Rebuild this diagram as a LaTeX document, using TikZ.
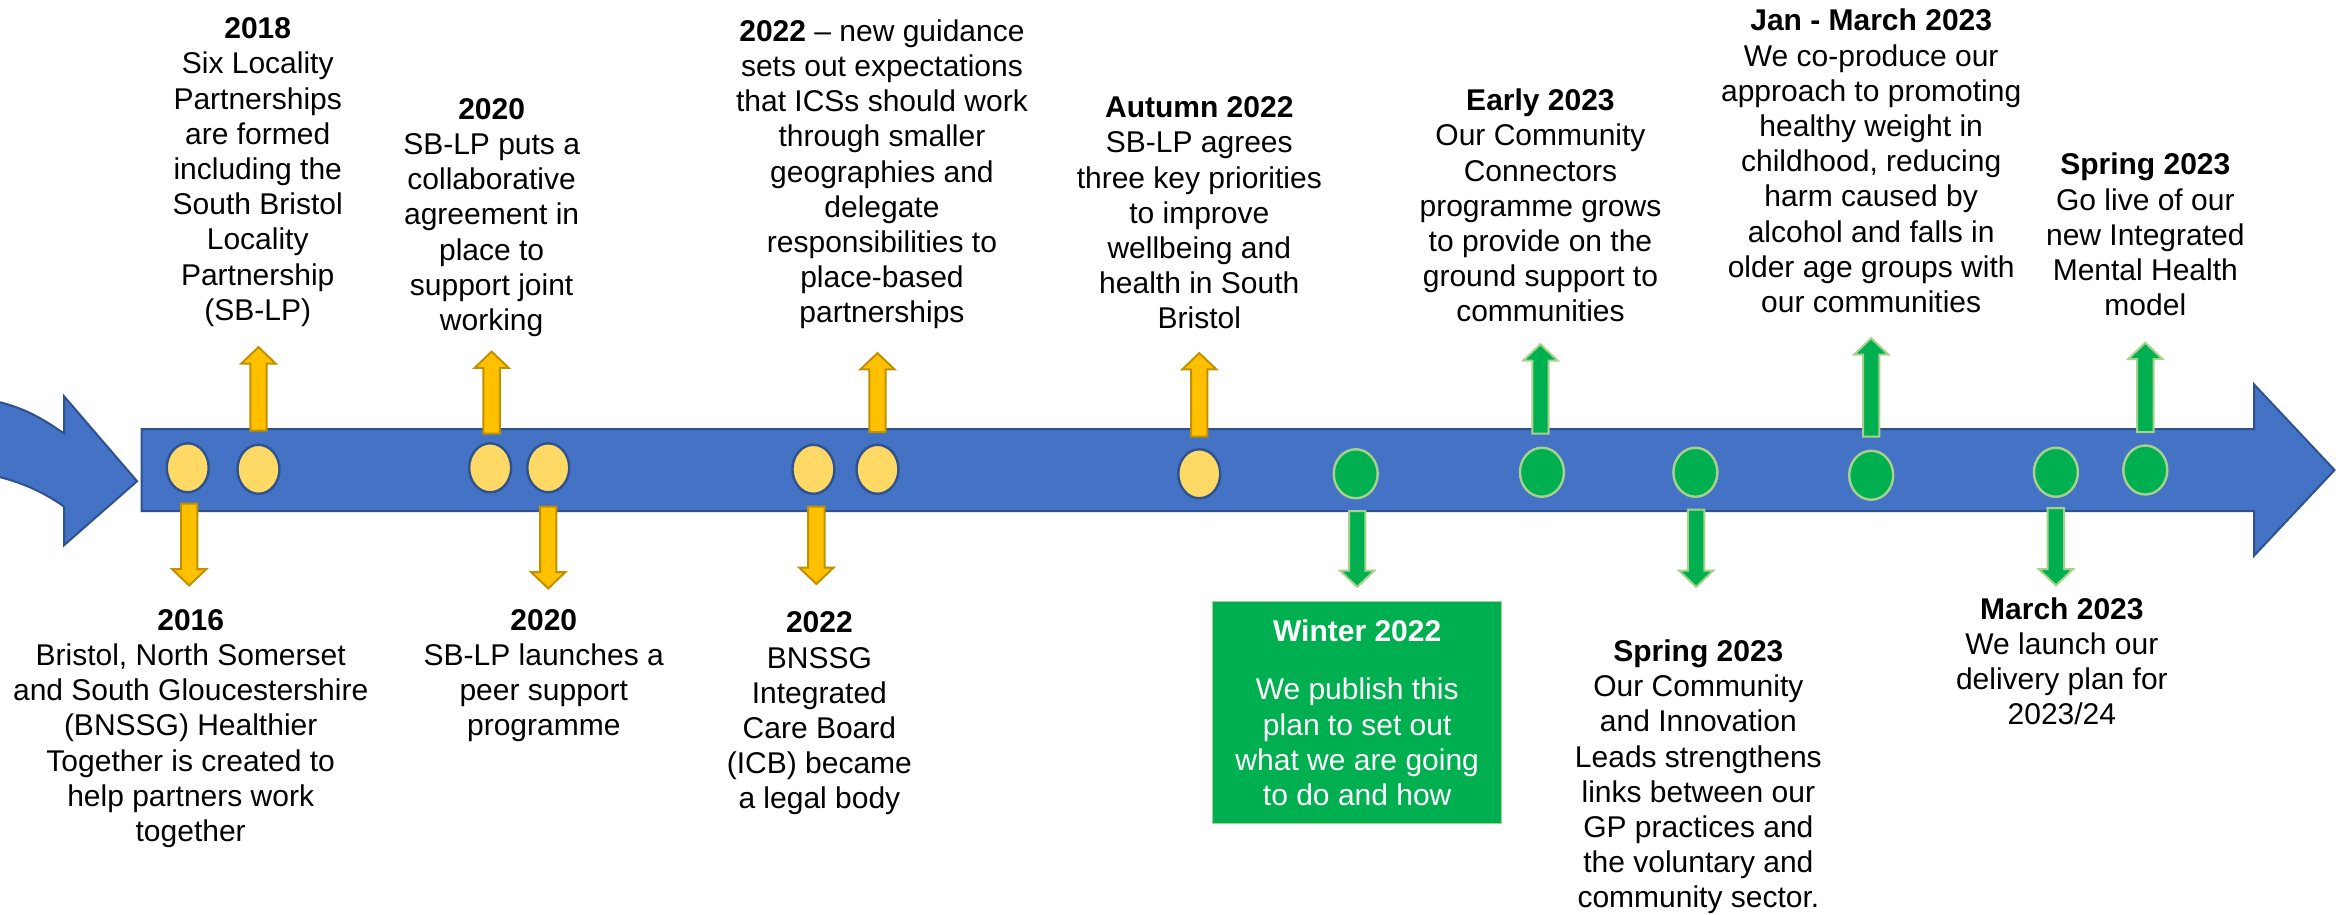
\documentclass[tikz,border=0pt]{standalone}
\usepackage{fontspec}
\setmainfont{Liberation Sans}
\usetikzlibrary{shapes.geometric}
\definecolor{barblue}{HTML}{4472C4}
\definecolor{bardark}{HTML}{2F528F}
\definecolor{ylfill}{HTML}{FFD966}
\definecolor{yarrow}{HTML}{FFC000}
\definecolor{yarrowline}{HTML}{BF9000}
\definecolor{gfill}{HTML}{00B050}
\definecolor{gline}{HTML}{A9D18E}
\newcommand\tlDown[4]{\draw[#1] ({#2-5.5},#3) -- ({#2+5.5},#3) -- ({#2+5.5},{#4-11}) -- ({#2+11.5},{#4-11}) -- (#2,#4) -- ({#2-11.5},{#4-11}) -- ({#2-5.5},{#4-11}) -- cycle;}
\newcommand\tlUp[4]{\draw[#1] ({#2-5.5},#3) -- ({#2+5.5},#3) -- ({#2+5.5},{#4+11}) -- ({#2+11.5},{#4+11}) -- (#2,#4) -- ({#2-11.5},{#4+11}) -- ({#2-5.5},{#4+11}) -- cycle;}
\begin{document}
\begin{tikzpicture}[x=0.745pt,y=-0.745pt,
 txt/.style={align=center,font=\fontsize{15}{17.6}\selectfont,inner sep=0pt},
 ycirc/.style={ellipse,fill=ylfill,draw=bardark,line width=1.2pt,minimum width=21pt,minimum height=24.5pt,inner sep=0pt},
 gcirc/.style={ellipse,fill=gfill,draw=gline,line width=1.2pt,minimum width=22pt,minimum height=24.5pt,inner sep=0pt},
 yarr/.style={fill=yarrow,draw=yarrowline,line width=1pt},
 garr/.style={fill=gfill,draw=gline,line width=1pt},
 barstyle/.style={fill=barblue,draw=bardark,line width=1pt}]
\useasboundingbox (0,0) rectangle (1568,614);
% incoming curved arrow
\path[barstyle] (-10,268) .. controls (15,272) and (30,282) .. (43,291) -- (43,266) -- (92,323) -- (43,366) -- (43,340) .. controls (30,331) and (15,323) .. (-10,318) -- cycle;
% main bar
\path[barstyle] (95,288) -- (1513,288) -- (1513,258) -- (1567,315.5) -- (1513,373) -- (1513,343) -- (95,343) -- cycle;
% up arrows
\tlUp{yarr}{173.5}{289}{233}
\tlUp{yarr}{330}{291}{236}
\tlUp{yarr}{589}{290}{237}
\tlUp{yarr}{805}{293}{237}
\tlUp{garr}{1034}{291}{231}
\tlUp{garr}{1256}{293}{227}
\tlUp{garr}{1440}{290}{230}
% down arrows
\tlDown{yarr}{127}{338}{393}
\tlDown{yarr}{368}{340}{395}
\tlDown{yarr}{548}{340}{392}
\tlDown{garr}{911}{343}{394}
\tlDown{garr}{1138.5}{342}{394}
\tlDown{garr}{1380}{341}{393}
% circles
\node[ycirc] (c1) at (126,314) {};
\node[ycirc] (c2) at (173.5,315) {};
\node[ycirc] (c3) at (329,314) {};
\node[ycirc] (c4) at (368,314) {};
\node[ycirc] (c5) at (546,315) {};
\node[ycirc] (c6) at (589,315) {};
\node[ycirc] (c7) at (805,318) {};
\node[gcirc] (g1) at (910,318) {};
\node[gcirc] (g2) at (1035,317) {};
\node[gcirc] (g3) at (1138,317) {};
\node[gcirc] (g4) at (1256,319) {};
\node[gcirc] (g5) at (1380,317) {};
\node[gcirc] (g6) at (1440,315.5) {};
% top texts
\node[txt] (t2018) at (173,115.5) {\textbf{2018}\\Six Locality\\Partnerships\\are formed\\including the\\South Bristol\\Locality\\Partnership\\(SB-LP)};
\node[txt] (t2020a) at (330,146) {\textbf{2020}\\SB-LP puts a\\collaborative\\agreement in\\place to\\support joint\\working};
\node[txt] (t2022a) at (592,117) {\textbf{2022} -- new guidance\\sets out expectations\\that ICSs should work\\through smaller\\geographies and\\delegate\\responsibilities to\\place-based\\partnerships};
\node[txt] (taut) at (805,143) {\textbf{Autumn 2022}\\SB-LP agrees\\three key priorities\\to improve\\wellbeing and\\health in South\\Bristol};
\node[txt] (tearly) at (1034,138) {\textbf{Early 2023}\\Our Community\\Connectors\\programme grows\\to provide on the\\ground support to\\communities};
\node[txt] (tjan) at (1256,108) {\textbf{Jan - March 2023}\\We co-produce our\\approach to promoting\\healthy weight in\\childhood, reducing\\harm caused by\\alcohol and falls in\\older age groups with\\our communities};
\node[txt] (tspringa) at (1440,157.5) {\textbf{Spring 2023}\\Go live of our\\new Integrated\\Mental Health\\model};
% bottom texts
\node[txt] (t2016) at (128,489) {\textbf{2016}\\Bristol, North Somerset\\and South Gloucestershire\\(BNSSG) Healthier\\Together is created to\\help partners work\\together};
\node[txt] (t2020b) at (365,453.5) {\textbf{2020}\\SB-LP launches a\\peer support\\programme};
\node[txt] (t2022b) at (550,479) {\textbf{2022}\\BNSSG\\Integrated\\Care Board\\(ICB) became\\a legal body};
\node[txt] (tspringb) at (1140,521.5) {\textbf{Spring 2023}\\Our Community\\and Innovation\\Leads strengthens\\links between our\\GP practices and\\the voluntary and\\community sector.};
\node[txt] (tmarch) at (1384,444) {\textbf{March 2023}\\We launch our\\delivery plan for\\2023/24};
% green box
\node[txt,fill=gfill,draw=gline,line width=0.6pt,minimum width=144.5pt,minimum height=111pt,text=white] (win) at (911,478.5) {\textbf{Winter 2022}\\[11.5pt]We publish this\\plan to set out\\what we are going\\to do and how};
\end{tikzpicture}
\end{document}
